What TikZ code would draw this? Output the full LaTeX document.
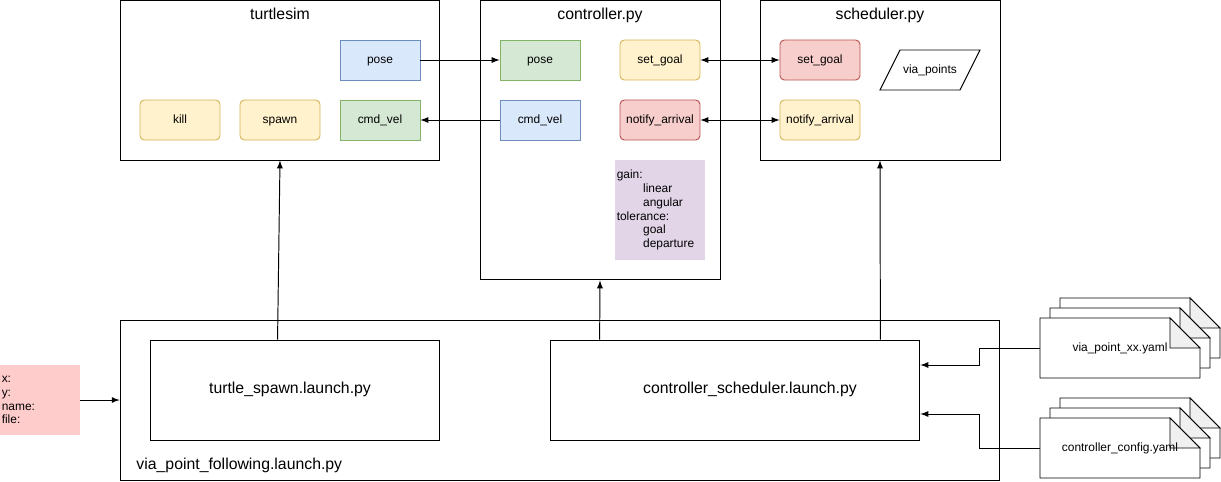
\documentclass[tikz,border=0pt]{standalone}
\usepackage{fontspec}
\setmainfont{Liberation Sans}
\usetikzlibrary{calc,positioning}

\definecolor{bluefill}{HTML}{DAE8FC}
\definecolor{bluedraw}{HTML}{6C8EBF}
\definecolor{greenfill}{HTML}{D5E8D4}
\definecolor{greendraw}{HTML}{82B366}
\definecolor{yellowfill}{HTML}{FFF2CC}
\definecolor{yellowdraw}{HTML}{D6B656}
\definecolor{redfill}{HTML}{F8CECC}
\definecolor{reddraw}{HTML}{B85450}
\definecolor{paramfill}{HTML}{E1D5E7}
\definecolor{argfill}{HTML}{FFCCCC}
\definecolor{foldgray}{HTML}{F0F0F0}

\tikzset{
    frame/.style={rectangle, draw, fill=white},
    title/.style={font=\fontsize{9}{11}\selectfont, text height=0.75em, text depth=0.3em},
    topic/.style={rectangle, draw, minimum width=1.6cm, minimum height=0.8cm,
        font=\fontsize{6.8}{8}\selectfont, text height=0.75em, text depth=0.3em},
    service/.style={topic, rounded corners=2.5pt},
    note/.style={rectangle, align=left, inner xsep=1pt,
        font=\fontsize{6.8}{7.9}\selectfont},
    launch/.style={rectangle, draw, minimum height=2cm,
        font=\fontsize{9}{11}\selectfont, text height=0.75em, text depth=0.3em},
    filename/.style={font=\fontsize{6.8}{8}\selectfont, text height=0.75em, text depth=0.3em,
        minimum width=3.2cm, minimum height=1.2cm}
}

\begin{document}
\begin{tikzpicture}[
                    x=0.02cm, y=-0.02cm,
                    >=latex,
                    line width=0.55pt
                ]
                \useasboundingbox (0,0) rectangle (1221,481);
                % Blocks
                \node [frame, minimum width=6.4cm, minimum height=3.2cm] (turtlesim) at (280,80) {};
                \node [title] (turtlesimtitle) at (280,16) {turtlesim};
                \node [frame, minimum width=4.8cm, minimum height=5.6cm] (controller) at (600,140) {};
                \node [title] (controllertitle) at (600,16) {controller.py};
                \node [frame, minimum width=4.8cm, minimum height=3.2cm] (scheduler) at (880,80) {};
                \node [title] (schedulertitle) at (880,16) {scheduler.py};

                \node [topic, fill=bluefill, draw=bluedraw] (tspose) at (380,60) {pose};
                \node [service, fill=yellowfill, draw=yellowdraw] (kill) at (180,120) {kill};
                \node [service, fill=yellowfill, draw=yellowdraw] (spawn) at (280,120) {spawn};
                \node [topic, fill=greenfill, draw=greendraw] (tscmdvel) at (380,120) {cmd\_vel};

                \node [topic, fill=greenfill, draw=greendraw] (ctpose) at (540,60) {pose};
                \node [service, fill=yellowfill, draw=yellowdraw] (ctsetgoal) at (660,60) {set\_goal};
                \node [topic, fill=bluefill, draw=bluedraw] (ctcmdvel) at (540,120) {cmd\_vel};
                \node [service, fill=redfill, draw=reddraw] (ctnotify) at (660,120) {notify\_arrival};
                \node [note, fill=paramfill, minimum width=1.8cm, minimum height=2cm, text width=1.8cm-2pt] (params) at (660,210)
                    {gain:\\\hspace*{15pt}linear\\\hspace*{15pt}angular\\tolerance:\\\hspace*{15pt}goal\\\hspace*{15pt}departure};

                \node [service, fill=redfill, draw=reddraw] (scsetgoal) at (820,60) {set\_goal};
                \node [service, fill=yellowfill, draw=yellowdraw] (scnotify) at (820,120) {notify\_arrival};
                \draw (880,90) -- (900,50) -- (980,50) -- (960,90) -- cycle;
                \node [topic, draw=none, minimum width=0pt] (viapoints) at (930,70) {via\_points};

                \node [frame, minimum width=17.6cm, minimum height=3.2cm] (mainlaunch) at (560,400) {};
                \node [title, anchor=west, inner xsep=0pt] (mainlaunchtitle) at (136,466) {via\_point\_following.launch.py};
                \node [launch, minimum width=5.8cm] (spawnlaunch) at (295,390) {turtle\_spawn.launch.py\hspace*{0.2cm}};
                \node [launch, minimum width=7.4cm] (ctrllaunch) at (735,390) {\hspace*{0.6cm}controller\_scheduler.launch.py};

                \node [note, fill=argfill, minimum width=1.6cm, minimum height=1.4cm, text width=1.6cm-2pt] (args) at (40,400)
                    {x:\\y:\\name:\\file:};

                % yaml files
                \foreach \top in {318,418} {
                    \foreach \d in {20,10,0} {
                        \draw [fill=white] (1040+\d,\top-\d) -- ++(130,0) -- ++(30,30) -- ++(0,30) -- ++(-160,0) -- cycle;
                        \draw [fill=foldgray] (1170+\d,\top-\d) -- ++(0,30) -- ++(30,0) -- cycle;
                    }
                }
                \node [filename] (viayaml) at (1120,348) {via\_point\_xx.yaml};
                \node [filename] (configyaml) at (1120,448) {controller\_config.yaml};

                % Connections
                \draw [->] (tspose) -- (ctpose);
                \draw [->] (ctcmdvel) -- (tscmdvel);
                \draw [<->] (ctsetgoal) -- (scsetgoal);
                \draw [<->] (ctnotify) -- (scnotify);
                \draw [->] ($(spawnlaunch.north west)!0.44!(spawnlaunch.north east)$) -- (turtlesim.south);
                \draw [->] ($(ctrllaunch.north west)!0.135!(ctrllaunch.north east)$) -- (controller.south);
                \draw [->] ($(ctrllaunch.north west)!0.892!(ctrllaunch.north east)$) -- (scheduler.south);
                \draw [->] (args) -- (mainlaunch.west);
                \draw [->] (viayaml.west) -- ++(-60,0) |- ($(ctrllaunch.east)+(0,-25)$);
                \draw [->] (configyaml.west) -- ++(-60,0) |- ($(ctrllaunch.east)+(0,24)$);
            \end{tikzpicture}
\end{document}
